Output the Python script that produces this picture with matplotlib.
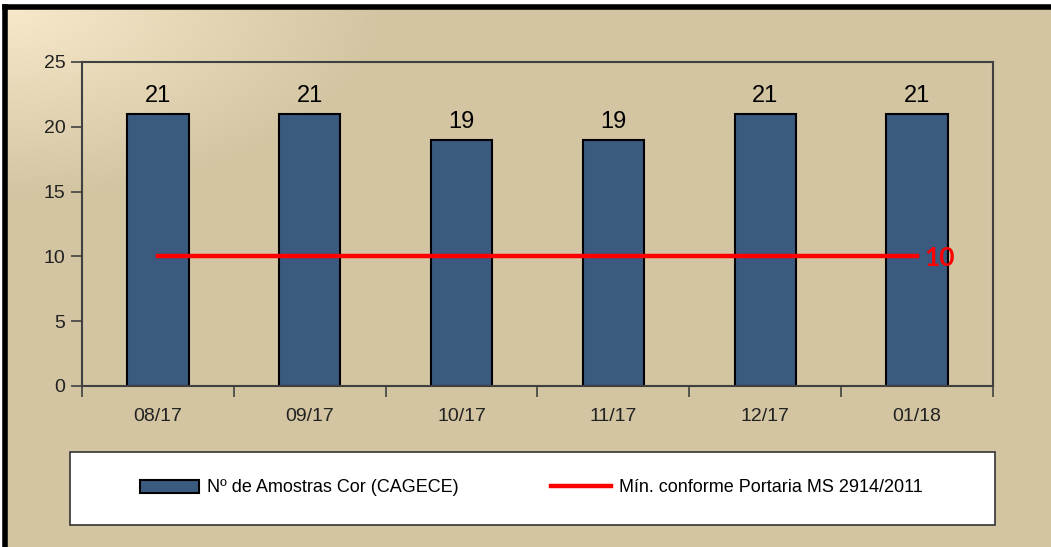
import numpy as np
import matplotlib.pyplot as plt
from matplotlib.patches import Rectangle
from matplotlib.colors import to_rgb

# dados
meses = ["08/17", "09/17", "10/17", "11/17", "12/17", "01/18"]
amostras = [21, 21, 19, 19, 21, 21]
minimo = [10, 10, 10, 10, 10, 10]
label_barras = "Nº de Amostras Cor (CAGECE)"
label_minimo = "Mín. conforme Portaria MS 2914/2011"

plt.rcParams['font.family'] = ['Liberation Sans', 'DejaVu Sans']

W, H = 1051, 547
fig = plt.figure(figsize=(W / 100, H / 100), dpi=100)
fig.patch.set_facecolor('white')

# fundo com gradiente (claro no canto superior esquerdo)
bg = fig.add_axes([5 / W, 0, 1 - 5 / W, 1 - 7 / H])
yy, xx = np.mgrid[0:540, 0:1046]
d = np.clip(np.sqrt((xx / 380.0) ** 2 + (yy / 190.0) ** 2), 0, 1)
c0 = np.array(to_rgb('#F8E9CB'))
c1 = np.array(to_rgb('#D3C4A2'))
img = c0[None, None, :] * (1 - d[..., None]) + c1[None, None, :] * d[..., None]
bg.imshow(img, aspect='auto', extent=(0, 1, 0, 1), origin='upper')
bg.set_xticks([])
bg.set_yticks([])
for s in ['right', 'bottom']:
    bg.spines[s].set_visible(False)
for s in ['left', 'top']:
    bg.spines[s].set_linewidth(4)
    bg.spines[s].set_color('black')

# grafico
ax = fig.add_axes([82 / W, 1 - 386 / H, 911 / W, 324 / H])
ax.patch.set_alpha(0)
x = np.arange(len(meses))
barras = ax.bar(x, amostras, width=0.405, color='#3B5A80', edgecolor='black', linewidth=1.5,
                label=label_barras, zorder=2)
linha, = ax.plot(x, minimo, color='#FF0000', linewidth=3.2, label=label_minimo, zorder=3)

for xi, v in zip(x, amostras):
    ax.annotate(str(v), (xi, v), xytext=(0, 5), textcoords='offset points',
                ha='center', va='bottom', fontsize=17)
ax.annotate(str(minimo[-1]), (x[-1], minimo[-1]), xytext=(5, -1), textcoords='offset points',
            ha='left', va='center', fontsize=19, fontweight='bold', color='#FF0000',
            family=['Lato', 'DejaVu Sans'])

ax.set_xlim(-0.5, len(meses) - 0.5)
ax.set_ylim(0, 25)
ax.set_yticks(range(0, 26, 5))
ax.set_xticks(x)
ax.set_xticklabels(meses)
ax.set_xticks(np.arange(-0.5, len(meses), 1), minor=True)
ax.tick_params(axis='x', which='major', length=0, pad=16, labelsize=14, labelcolor='#222222')
ax.tick_params(axis='x', which='minor', length=8, width=1.2, direction='out', color='#404040')
ax.tick_params(axis='y', length=8, width=1.2, direction='out', color='#404040',
               labelsize=14, labelcolor='#222222', pad=4)
for s in ax.spines.values():
    s.set_color('#404040')
    s.set_linewidth(1.5)

# legenda
fig.patches.append(Rectangle((70 / W, 1 - 525 / H), 925 / W, 73 / H, transform=fig.transFigure,
                             facecolor='white', edgecolor='#333333', linewidth=1.2, zorder=5))
leg = fig.legend([barras, linha], [label_barras, label_minimo],
                 loc='center', bbox_to_anchor=(531 / W, 1 - 488 / H), ncol=2, frameon=False,
                 fontsize=13, handlelength=3.3, handletextpad=0.45, columnspacing=5.1)
leg.set_zorder(6)

fig.savefig('out.png', dpi=100)
